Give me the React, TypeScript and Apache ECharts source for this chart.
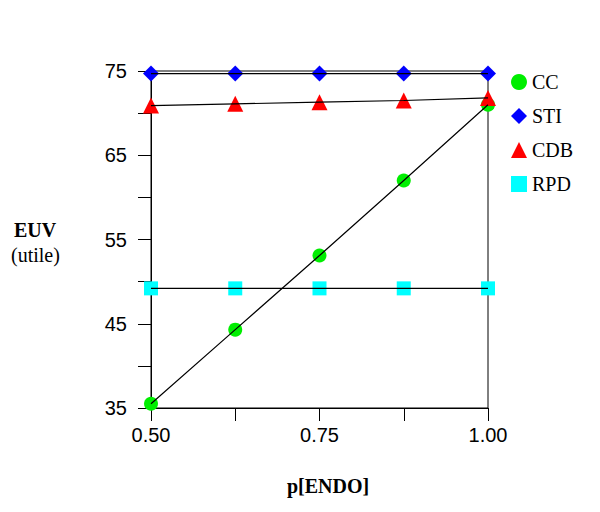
import React, { useEffect, useRef } from "react";
import * as echarts from "echarts";

const xValues = [0.5, 0.625, 0.75, 0.875, 1.0];
const ccValues = [35.5, 44.3, 53.1, 62.0, 71.0];
const stiValues = [74.7, 74.7, 74.7, 74.7, 74.7];
const cdbValues = [70.9, 71.1, 71.3, 71.5, 71.8];
const rpdValues = [49.2, 49.2, 49.2, 49.2, 49.2];
const yTickLabels = [35, 45, 55, 65, 75];
const xTickLabels = [0.5, 0.75, 1.0];

const seriesDefs = [
  { name: "CC", values: ccValues, symbol: "circle", size: 14, color: "#00ee00" },
  { name: "STI", values: stiValues, symbol: "diamond", size: 16, color: "#0000ff" },
  { name: "CDB", values: cdbValues, symbol: "triangle", size: 16, color: "#ff0000" },
  { name: "RPD", values: rpdValues, symbol: "rect", size: 14, color: "#00ffff" },
];

export default function App() {
  const ref = useRef<HTMLDivElement>(null);
  useEffect(() => {
    if (!ref.current) return;
    const chart = echarts.init(ref.current, null, { renderer: "svg" });
    const pts = (vals: number[]) => xValues.map((x, i) => [x, vals[i]]);
    const scatter = seriesDefs.map((s) => ({
      name: s.name,
      type: "scatter",
      data: pts(s.values),
      symbol: s.symbol,
      symbolSize: s.size,
      itemStyle: { color: s.color, opacity: 1 },
      z: 2,
    }));
    const lines = seriesDefs.map((s) => ({
      name: s.name + "-line",
      type: "line",
      data: pts(s.values),
      showSymbol: false,
      lineStyle: { color: "#000", width: 1.2 },
      z: 3,
    }));
    chart.setOption({
      animation: false,
      backgroundColor: "#fff",
      grid: {
        left: 151,
        right: 112,
        top: 71,
        bottom: 104,
        show: true,
        borderColor: "#000",
        borderWidth: 1,
        backgroundColor: "transparent",
      },
      xAxis: {
        type: "value",
        min: 0.5,
        max: 1.0,
        interval: 0.125,
        splitLine: { show: false },
        axisLine: { lineStyle: { color: "#000", width: 1 } },
        axisTick: { length: 13, lineStyle: { color: "#000" } },
        axisLabel: {
          margin: 17,
          color: "#000",
          fontFamily: "Liberation Sans",
          fontSize: 20,
          formatter: (v: number) =>
            xTickLabels.some((t) => Math.abs(t - v) < 1e-6) ? v.toFixed(2) : "",
        },
      },
      yAxis: {
        type: "value",
        min: 35,
        max: 75,
        interval: 5,
        splitLine: { show: false },
        axisLine: { lineStyle: { color: "#000", width: 1 } },
        axisTick: { length: 13, lineStyle: { color: "#000" } },
        axisLabel: {
          margin: 24,
          color: "#000",
          fontFamily: "Liberation Sans",
          fontSize: 20,
          formatter: (v: number) =>
            yTickLabels.some((t) => Math.abs(t - v) < 1e-6) ? String(v) : "",
        },
      },
      legend: {
        data: seriesDefs.map((s) => s.name),
        orient: "vertical",
        left: 506,
        top: 67,
        itemWidth: 16,
        itemHeight: 16,
        itemGap: 14,
        itemStyle: { opacity: 1 },
        textStyle: { fontFamily: "Liberation Serif", fontSize: 20, color: "#000" },
      },
      graphic: [
        {
          type: "text",
          left: 14,
          top: 220,
          style: {
            text: "EUV",
            font: "bold 20px 'Liberation Serif'",
            fill: "#000",
          },
        },
        {
          type: "text",
          left: 11,
          top: 245,
          style: {
            text: "(utile)",
            font: "20px 'Liberation Serif'",
            fill: "#000",
          },
        },
        {
          type: "text",
          left: 287,
          top: 476,
          style: {
            text: "p[ENDO]",
            font: "bold 20px 'Liberation Serif'",
            fill: "#000",
          },
        },
      ],
      series: [...scatter, ...lines],
    });
    return () => chart.dispose();
  }, []);
  return <div ref={ref} style={{ width: 600, height: 512, margin: -8 }} />;
}
